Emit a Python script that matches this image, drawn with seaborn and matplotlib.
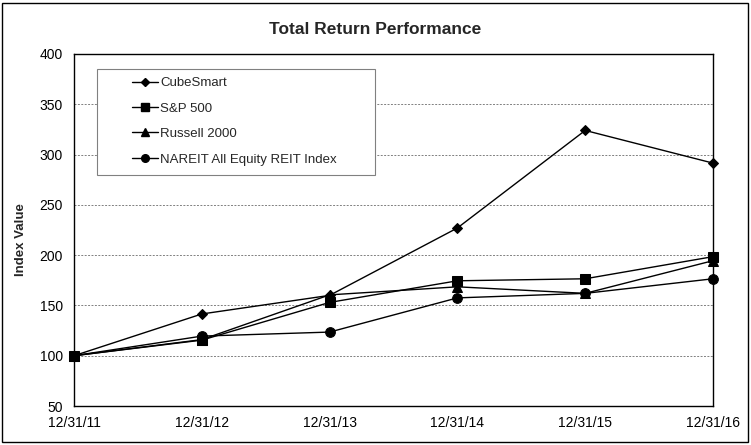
import matplotlib
matplotlib.use("Agg")
import matplotlib.pyplot as plt
import pandas as pd
import seaborn as sns
from matplotlib.patches import Rectangle

DATES = ["12/31/11", "12/31/12", "12/31/13", "12/31/14", "12/31/15", "12/31/16"]
CUBESMART = [100, 141.5, 160, 227, 324, 291.5]
SP500 = [100, 115.5, 153, 174.5, 176.5, 198.5]
RUSSELL = [100, 116, 160.5, 168.5, 162, 194.5]
NAREIT = [100, 119.5, 123.5, 157.5, 162, 176.5]

SERIES = ["CubeSmart", "S&P 500", "Russell 2000", "NAREIT All Equity REIT Index"]
MARKERS = {"CubeSmart": "D", "S&P 500": "s", "Russell 2000": "^",
           "NAREIT All Equity REIT Index": "o"}


def build_frame():
    rows = []
    for name, values in zip(SERIES, [CUBESMART, SP500, RUSSELL, NAREIT]):
        for i, (d, v) in enumerate(zip(DATES, values)):
            rows.append({"date": d, "pos": i, "value": v, "series": name})
    return pd.DataFrame(rows)


sns.set_style("white")
plt.rcParams["font.family"] = ["Liberation Sans", "DejaVu Sans"]

data = build_frame()

fig = plt.figure(figsize=(7.51, 4.45), dpi=100)
ax = fig.add_axes([74 / 751, 1 - 406 / 445, (713 - 74) / 751, (406 - 54) / 445])

sns.lineplot(data=data, x="pos", y="value", hue="series", style="series",
             palette=["black"] * 4, markers=MARKERS, dashes=False,
             linewidth=1, markersize=7, markeredgecolor="black",
             ax=ax, legend=False, sort=False)
for line in ax.lines:
    line.set_clip_on(False)
    line.set_zorder(3)
    if line.get_marker() == "D":
        line.set_markersize(5.5)

ax.set_xlim(0, len(DATES) - 1)
ax.set_ylim(50, 400)
ax.set_xticks(range(len(DATES)))
ax.set_xticklabels(DATES)
ax.set_yticks(range(50, 401, 50))
ax.set_xlabel("")
ax.set_ylabel("Index Value", fontsize=9.5, fontweight="bold")
ax.yaxis.set_label_coords(-47 / 639, 166 / 352)
ax.tick_params(axis="both", labelsize=10, colors="black", width=0.8)
ax.tick_params(axis="y", direction="inout", length=6, pad=5)
ax.tick_params(axis="x", direction="inout", length=5, pad=5)
for y in range(100, 400, 50):
    ax.axhline(y, color="#808080", linestyle=(0, (2, 1.5)), linewidth=0.7, zorder=0)
for spine in ax.spines.values():
    spine.set_visible(True)
    spine.set_color("black")
    spine.set_linewidth(1)
    spine.set_zorder(4)

# legend box drawn separately so its size matches the reference
ax.add_patch(Rectangle((23 / 639, 231 / 352), 278 / 639, 106 / 352,
                       transform=ax.transAxes, facecolor="white",
                       edgecolor="#808080", linewidth=0.8, zorder=4.5))
handles = []
for name in SERIES:
    h, = ax.plot([], [], color="black", linewidth=1, marker=MARKERS[name],
                 markersize=4.5 if MARKERS[name] == "D" else 5.5)
    handles.append(h)
leg = ax.legend(handles, SERIES, loc="upper left",
                bbox_to_anchor=(58 / 639, 329 / 352),
                fontsize=9.5, frameon=False, handlelength=2.0,
                handletextpad=0.15, labelspacing=1.0, borderpad=0,
                borderaxespad=0)
leg.set_zorder(5)

fig.text(0.5, 1 - 30 / 445, "Total Return Performance", ha="center", va="center",
         fontsize=12.5, fontweight="bold")
fig.patches.append(Rectangle((2 / 751, 3 / 445), 746 / 751, 439 / 445,
                             transform=fig.transFigure, fill=False,
                             edgecolor="black", linewidth=1))

fig.savefig("out.png", dpi=100)
